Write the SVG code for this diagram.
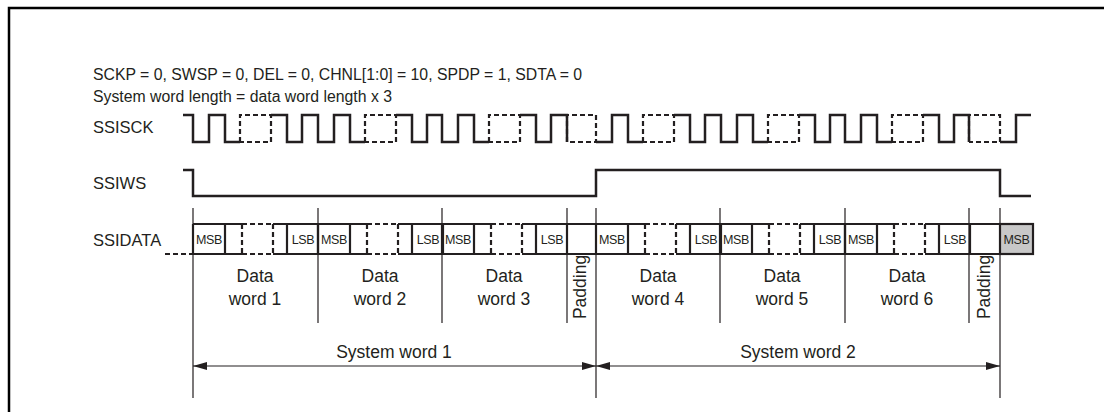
<svg xmlns="http://www.w3.org/2000/svg" width="1105" height="412" viewBox="0 0 1105 412">
<style>
text{font-family:"Liberation Sans",Arial,sans-serif;fill:#231f20}
.t{font-size:15.8px}
.lbl{font-size:16.5px}
.dw{font-size:17.5px;text-anchor:middle}
.sm{font-size:12.5px;text-anchor:middle;letter-spacing:-0.4px}
.wave{fill:none;stroke:#231f20;stroke-width:2.5;stroke-linejoin:miter}
.dash{fill:none;stroke:#231f20;stroke-width:2.2;stroke-dasharray:5 3}
.box{fill:none;stroke:#231f20;stroke-width:2.2}
.thin{stroke:#231f20;stroke-width:1.2;fill:none}
.frame{fill:none;stroke:#000;stroke-width:2.5}
</style>
<defs>
<marker id="ah" viewBox="0 0 14 8" refX="14" refY="4" markerWidth="14" markerHeight="8" markerUnits="userSpaceOnUse" orient="auto-start-reverse">
<path d="M0,0 L14,4 L0,8 z" fill="#231f20"/>
</marker>
<g id="word">
<path class="box" d="M0,224 H49 M80,224 H125 M0,254 H49 M80,254 H125 M0,224 V254 M32,224 V254 M94,224 V254 M125,224 V254"/>
<path class="dash" d="M49,224 H80 M49,254 H80 M49,224 V254 M80,224 V254"/>
<text class="sm" x="16" y="243.5">MSB</text>
<text class="sm" x="110" y="243.5">LSB</text>
</g>
</defs>

<path class="frame" d="M9,412 V8 H1104"/>

<g id="header">
<text class="t" x="93" y="80">SCKP = 0, SWSP = 0, DEL = 0, CHNL[1:0] = 10, SPDP = 1, SDTA = 0</text>
<text class="t" x="93" y="102">System word length = data word length x 3</text>
</g>

<g id="ssisck">
<text class="lbl" x="93" y="133">SSISCK</text>
<path class="wave" d="M183,115 H193 V142 H209 V115 H225 V142 H240 M271,115 H287 V142 H302 V115 H318 V142 H334 V115 H350 V142 H365 M396,115 H412 V142 H427 V115 H442 V142 H458 V115 H474 V142 H489 M520,115 H536 V142 H551 V115 H567 V142 M596,142 H612 V115 H628 V142 H643 M674,115 H690 V142 H705 V115 H721 V142 H737 V115 H753 V142 H768 M799,115 H815 V142 H830 V115 H845 V142 H861 V115 H877 V142 H892 M923,115 H939 V142 H954 V115 H969 V142 M1000,142 H1016 V115 H1031"/>
<path class="dash" d="M240,142 V115 H271 V142 H240 M365,142 V115 H396 V142 H365 M489,142 V115 H520 V142 H489 M567,142 V115 H596 V142 H567 M643,142 V115 H674 V142 H643 M768,142 V115 H799 V142 H768 M892,142 V115 H923 V142 H892 M969,142 V115 H1000 V142 H969"/>
</g>

<g id="ssiws">
<text class="lbl" x="93" y="189">SSIWS</text>
<path class="wave" d="M183,170 H193 V196 H596 V170 H1000 V196 H1031"/>
</g>

<g id="ssidata">
<text class="lbl" x="93" y="246">SSIDATA</text>
<path class="dash" d="M165,254 H193"/>
<path class="box" d="M567,224 H596 M567,254 H596 M969,224 H1000 M969,254 H1000"/>
<rect x="1000" y="224" width="33" height="30" fill="#c8c8c8" stroke="#231f20" stroke-width="2.2"/>
<text class="sm" x="1016.5" y="243.5">MSB</text>
</g>

<g id="word1"><use href="#word" x="193"/><text class="dw" x="255" y="282">Data</text><text class="dw" x="255" y="305">word 1</text></g>
<g id="word2"><use href="#word" x="318"/><text class="dw" x="380" y="282">Data</text><text class="dw" x="380" y="305">word 2</text></g>
<g id="word3"><use href="#word" x="442"/><text class="dw" x="504" y="282">Data</text><text class="dw" x="504" y="305">word 3</text></g>
<g id="padding1"><text class="dw" transform="translate(586,287) rotate(-90)">Padding</text></g>
<g id="word4"><use href="#word" x="596"/><text class="dw" x="658" y="282">Data</text><text class="dw" x="658" y="305">word 4</text></g>
<g id="word5"><use href="#word" x="720"/><text class="dw" x="782" y="282">Data</text><text class="dw" x="782" y="305">word 5</text></g>
<g id="word6"><use href="#word" x="845"/><text class="dw" x="907" y="282">Data</text><text class="dw" x="907" y="305">word 6</text></g>
<g id="padding2"><text class="dw" transform="translate(990,287) rotate(-90)">Padding</text></g>

<g id="connectors">
<path class="thin" d="M193,208 V398 M318,208 V323 M442,208 V323 M567,208 V323 M596,208 V398 M720,208 V323 M845,208 V323 M969,208 V323 M1000,208 V398"/>
<line class="thin" x1="193" y1="366" x2="596" y2="366" marker-start="url(#ah)" marker-end="url(#ah)"/>
<line class="thin" x1="596" y1="366" x2="1000" y2="366" marker-start="url(#ah)" marker-end="url(#ah)"/>
</g>
<g id="sysword1"><text class="dw" x="394" y="358">System word 1</text></g>
<g id="sysword2"><text class="dw" x="798" y="358">System word 2</text></g>
</svg>
